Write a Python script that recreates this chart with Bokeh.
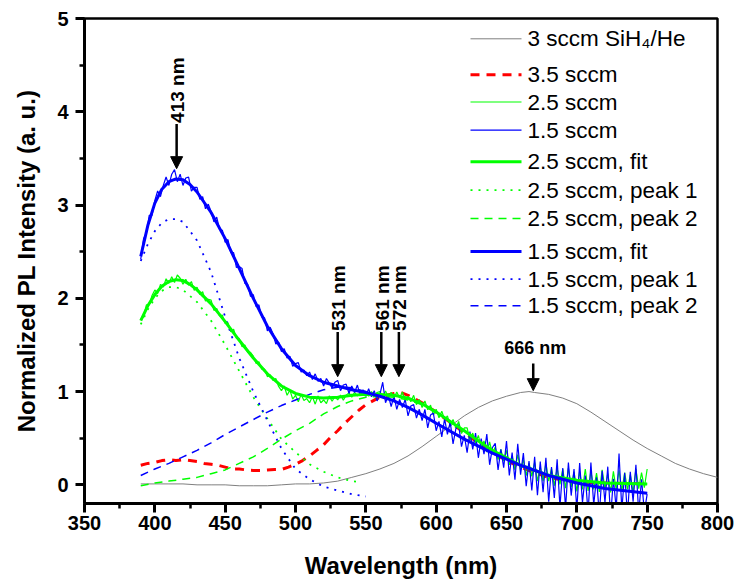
from bokeh.plotting import figure
from bokeh.models import Range1d, SingleIntervalTicker, Label, Arrow, NormalHead
from bokeh.embed import file_html
from bokeh.resources import INLINE

# ---------------- data ----------------
wl_raw = list(range(390, 751, 2))
blue_raw = [2.42, 2.64, 2.70, 2.89, 2.89, 3.05, 3.15, 3.09, 3.21, 3.30,
            3.21, 3.33, 3.38, 3.25, 3.33, 3.21, 3.29, 3.30, 3.15, 3.19,
            3.19, 3.06, 3.09, 2.96, 3.01, 2.93, 2.82, 2.87, 2.74, 2.73,
            2.60, 2.63, 2.49, 2.49, 2.33, 2.34, 2.32, 2.16, 2.15, 2.02,
            2.04, 1.91, 1.93, 1.80, 1.79, 1.65, 1.69, 1.62, 1.51, 1.53,
            1.43, 1.46, 1.36, 1.38, 1.27, 1.30, 1.31, 1.21, 1.23, 1.17,
            1.21, 1.13, 1.19, 1.11, 1.14, 1.06, 1.14, 1.09, 1.04, 1.10,
            1.12, 1.01, 1.07, 1.08, 0.98, 1.06, 0.99, 1.07, 0.96, 1.02,
            0.95, 1.03, 0.945, 1.01, 0.90, 0.97, 1.10, 0.88, 0.96, 0.84,
            0.95, 0.81, 0.915, 0.83, 0.915, 0.74, 0.845, 0.86, 0.715, 0.81,
            0.69, 0.81, 0.61, 0.75, 0.77, 0.58, 0.68, 0.515, 0.71, 0.54,
            0.675, 0.44, 0.60, 0.645, 0.41, 0.53, 0.345, 0.57, 0.38, 0.555,
            0.29, 0.495, 0.33, 0.545, 0.215, 0.40, 0.445, 0.16, 0.38, 0.185,
            0.47, 0.10, 0.345, 0.055, 0.44, 0.11, 0.34, -0.015, 0.255, -0.06,
            0.30, -0.11, 0.25, -0.08, 0.29, -0.18, 0.19, -0.14, 0.275, -0.235,
            0.18, -0.25, 0.24, -0.115, 0.17, -0.26, 0.235, -0.19, 0.10, -0.305,
            0.24, -0.215, 0.08, -0.325, 0.15, -0.19, 0.195, -0.35, 0.065, -0.26,
            0.335, -0.27, 0.13, -0.325, 0.14, -0.18, 0.215, -0.305, 0.06, -0.29,
            -0.10]
green_raw = [1.78, 1.80, 1.93, 1.93, 2.03, 2.09, 2.05, 2.15, 2.12, 2.21,
             2.16, 2.23, 2.17, 2.25, 2.215, 2.15, 2.205, 2.14, 2.18, 2.085,
             2.12, 2.04, 2.07, 1.97, 1.99, 1.98, 1.87, 1.89, 1.81, 1.82,
             1.73, 1.74, 1.64, 1.67, 1.57, 1.57, 1.48, 1.50, 1.42, 1.42,
             1.38, 1.30, 1.32, 1.24, 1.24, 1.16, 1.18, 1.12, 1.14, 1.055,
             1.01, 1.06, 0.96, 1.015, 0.92, 0.96, 0.89, 0.97, 0.905, 0.925,
             0.88, 0.947, 0.865, 0.952, 0.88, 0.91, 0.872, 0.954, 0.896, 0.948,
             0.91, 0.964, 0.908, 0.962, 0.986, 0.94, 0.992, 0.954, 0.986, 0.978,
             0.99, 0.95, 1.00, 0.96, 0.99, 1.00, 0.948, 1.006, 0.944, 0.992,
             0.93, 0.995, 0.93, 0.995, 0.90, 0.95, 0.89, 0.96, 0.86, 0.915,
             0.83, 0.90, 0.805, 0.855, 0.75, 0.81, 0.72, 0.79, 0.70, 0.74,
             0.63, 0.70, 0.61, 0.68, 0.55, 0.61, 0.61, 0.475, 0.555, 0.45,
             0.53, 0.40, 0.47, 0.35, 0.46, 0.33, 0.405, 0.27, 0.38, 0.255,
             0.37, 0.215, 0.31, 0.16, 0.325, 0.16, 0.27, 0.10, 0.235, 0.09,
             0.24, 0.04, 0.19, 0.04, 0.23, 0.04, 0.175, -0.01, 0.18, 0.005,
             0.17, -0.035, 0.18, -0.025, 0.14, -0.07, 0.145, -0.05, 0.17, -0.065,
             0.15, -0.05, 0.125, -0.075, 0.16, -0.04, 0.12, -0.08, 0.145, -0.055,
             0.155, -0.065, 0.13, -0.05, 0.11, -0.08, 0.17, -0.04, 0.13, -0.03,
             0.17]

wl_gray = [390, 400, 410, 420, 430, 440, 450, 460, 470, 480, 490, 500, 510, 520, 530,
           540, 550, 560, 570, 580, 590, 600, 610, 620, 630, 640, 650, 660, 666, 670,
           680, 690, 700, 710, 720, 730, 740, 750, 760, 770, 780, 790, 800]
gray = [0.01, 0.01, 0.01, 0.01, 0.00, 0.00, 0.00, -0.01, -0.01, -0.01, 0.00, 0.01, 0.01, 0.02, 0.04,
        0.08, 0.12, 0.17, 0.23, 0.31, 0.41, 0.52, 0.63, 0.74, 0.83, 0.90, 0.95, 0.99, 1.00, 0.99,
        0.97, 0.93, 0.87, 0.78, 0.68, 0.58, 0.48, 0.39, 0.31, 0.23, 0.17, 0.12, 0.08]

wl_red = [390, 395, 400, 405, 410, 415, 420, 425, 430, 435,
          440, 445, 450, 455, 460, 465, 470, 475, 480, 485,
          490, 495, 500, 505, 510, 515, 520, 525, 530, 535,
          540, 545, 550, 555, 560, 565, 570, 575, 580,
          590, 600, 610, 620, 630, 640, 650, 660, 670, 680, 690, 700,
          720, 750]
red = [0.21, 0.23, 0.24, 0.26, 0.27, 0.26, 0.27, 0.26, 0.25, 0.23,
       0.22, 0.21, 0.19, 0.17, 0.17, 0.16, 0.155, 0.155, 0.16, 0.165,
       0.165, 0.19, 0.22, 0.26, 0.31, 0.37, 0.43, 0.51, 0.58, 0.66,
       0.73, 0.80, 0.86, 0.90, 0.94, 0.96, 0.98, 0.99, 0.96,
       0.88, 0.78, 0.67, 0.56, 0.45, 0.35, 0.26, 0.19, 0.13, 0.08, 0.05, 0.03,
       0.02, 0.01]

wl_bfit = [390, 395, 400, 405, 410, 415, 420, 425, 430, 440, 450, 460, 470, 480, 490, 500,
           510, 520, 530, 540, 550, 560, 570, 580, 590, 600, 620, 640, 660, 680, 700, 720, 750]
blue_fit = [2.45, 2.78, 3.02, 3.17, 3.25, 3.28, 3.27, 3.22, 3.14, 2.92, 2.64, 2.32, 2.00, 1.70, 1.46, 1.28,
            1.17, 1.10, 1.06, 1.02, 0.99, 0.95, 0.90, 0.83, 0.75, 0.66, 0.49, 0.34, 0.21, 0.10, 0.02, -0.04, -0.09]

wl_gfit = [390, 395, 400, 405, 410, 415, 420, 425, 430, 440, 450, 460, 470, 480, 490, 500, 510, 520,
           530, 540, 550, 560, 570, 580, 590, 600, 610, 620, 630, 640, 660, 680, 700, 720, 750]
green_fit = [1.76, 1.92, 2.04, 2.13, 2.18, 2.20, 2.19, 2.15, 2.09, 1.94, 1.75, 1.55, 1.36, 1.19, 1.06, 0.98, 0.94, 0.93,
             0.94, 0.96, 0.97, 0.97, 0.96, 0.93, 0.87, 0.78, 0.68, 0.58, 0.47, 0.37, 0.21, 0.10, 0.05, 0.02, 0.01]

wl_gp1 = [390, 395, 400, 405, 410, 415, 420, 430, 440, 450, 460, 470, 480, 490, 500, 510, 520, 530, 540, 545]
green_peak1 = [1.72, 1.88, 2.00, 2.08, 2.12, 2.12, 2.09, 1.96, 1.76, 1.50, 1.22, 0.94, 0.71, 0.49, 0.35, 0.22, 0.14, 0.08, 0.04, 0.03]

wl_gp2 = [390, 400, 410, 420, 430, 440, 450, 460, 470, 480, 490, 500, 510, 520, 530, 540, 550, 561,
          570, 580, 590, 600, 620, 640, 660, 680, 700, 720, 750]
green_peak2 = [-0.01, 0.02, 0.04, 0.06, 0.08, 0.12, 0.16, 0.23, 0.30, 0.39, 0.49, 0.58, 0.66, 0.76, 0.84, 0.90, 0.94, 0.95,
               0.94, 0.91, 0.86, 0.78, 0.58, 0.37, 0.21, 0.10, 0.05, 0.02, 0.01]

wl_bp1 = [390, 395, 400, 405, 410, 415, 420, 430, 440, 450, 460, 470, 480, 490, 500, 510, 520, 530, 540, 550]
blue_peak1 = [2.40, 2.58, 2.72, 2.81, 2.85, 2.85, 2.82, 2.62, 2.28, 1.80, 1.36, 1.00, 0.69, 0.39, 0.17, 0.06, -0.02, -0.06, -0.10, -0.125]

wl_bp2 = [390, 400, 410, 420, 430, 440, 450, 460, 470, 480, 490, 500, 510, 520, 531, 540, 550, 560,
          570, 580, 600, 620, 640, 660, 680, 700, 720, 750]
blue_peak2 = [0.10, 0.17, 0.23, 0.30, 0.37, 0.45, 0.54, 0.62, 0.70, 0.78, 0.85, 0.91, 0.97, 1.02, 1.05, 1.04, 1.00, 0.95,
              0.90, 0.83, 0.66, 0.49, 0.34, 0.21, 0.10, 0.02, -0.04, -0.09]

peak_labels = ["413 nm", "531 nm", "561 nm", "572 nm"]
peak_x = [415.5, 530.0, 561.0, 573.5]
peak_tip_y = [3.39, 1.16, 1.16, 1.16]
peak_top_y = [3.87, 1.64, 1.64, 1.64]
gray_peak_label = "666 nm"
gray_peak_x = 669.0
gray_tip_y = 1.01
gray_top_y = 1.30

legend_labels = ["3 sccm SiH\u2084/He", "3.5 sccm", "2.5 sccm", "1.5 sccm", "2.5 sccm, fit",
                 "2.5 sccm, peak 1", "2.5 sccm, peak 2", "1.5 sccm, fit",
                 "1.5 sccm, peak 1", "1.5 sccm, peak 2"]

# ---------------- figure ----------------
X0, X1, Y0, Y1 = 350, 800, -0.2, 5
L, R, T, B = 84, 717, 18, 503

p = figure(width=735, height=585, x_range=Range1d(X0, X1), y_range=Range1d(Y0, Y1),
           output_backend="svg", toolbar_location=None,
           min_border_left=L, min_border_right=735 - R, min_border_top=T, min_border_bottom=585 - B)
p.xgrid.visible = False
p.ygrid.visible = False
p.outline_line_color = "black"
p.outline_line_width = 2.5
p.background_fill_color = "white"
p.border_fill_color = "white"

FONT = "Liberation Sans"
p.xaxis.ticker = SingleIntervalTicker(interval=50, num_minor_ticks=2)
p.yaxis.ticker = SingleIntervalTicker(interval=1, num_minor_ticks=2)
for ax in (p.xaxis, p.yaxis):
    ax.axis_line_width = 3
    ax.axis_line_color = "black"
    ax.major_tick_line_width = 3
    ax.minor_tick_line_width = 2.5
    ax.major_tick_out = 9
    ax.major_tick_in = 0
    ax.minor_tick_out = 5
    ax.minor_tick_in = 0
    ax.major_label_text_font = FONT
    ax.major_label_text_font_style = "bold"
    ax.major_label_text_font_size = "20px"
    ax.major_label_text_color = "black"
    ax.axis_label_text_font = FONT
    ax.axis_label_text_font_style = "bold"
    ax.axis_label_text_font_size = "24px"
    ax.axis_label_text_color = "black"
p.xaxis.axis_label = "Wavelength (nm)"
p.yaxis.axis_label = "Normalized PL Intensity (a. u.)"
p.xaxis.major_label_standoff = 3
p.yaxis.major_label_standoff = 7
p.xaxis.axis_label_standoff = 19
p.yaxis.axis_label_standoff = 14

BLUE, GREEN, RED, GRAY = "#0000ff", "#00ff00", "#ff0000", "#7f7f7f"

p.line(wl_gray, gray, line_color=GRAY, line_width=1)
p.line(wl_red, red, line_color=RED, line_width=3, line_dash="9 7")
p.line(wl_raw, green_raw, line_color=GREEN, line_width=1.2)
p.line(wl_raw, blue_raw, line_color=BLUE, line_width=1.2)
p.line(wl_gp1, green_peak1, line_color=GREEN, line_width=1.8, line_dash="2 6")
p.line(wl_gp2, green_peak2, line_color=GREEN, line_width=1.5, line_dash="8 6")
p.line(wl_bp1, blue_peak1, line_color=BLUE, line_width=1.8, line_dash="2 6")
p.line(wl_bp2, blue_peak2, line_color=BLUE, line_width=1.5, line_dash="8 6")
p.line(wl_gfit, green_fit, line_color=GREEN, line_width=3)
p.line(wl_bfit, blue_fit, line_color=BLUE, line_width=3)

# peak arrows
for lab, x, tip, top in zip(peak_labels, peak_x, peak_tip_y, peak_top_y):
    p.add_layout(Arrow(x_start=x, y_start=top, x_end=x, y_end=tip, line_width=2.5, line_color="black",
                       end=NormalHead(size=12, fill_color="black", line_color="black", line_width=1)))
    p.add_layout(Label(x=x, y=top, text=lab, angle=90, angle_units="deg", text_align="left",
                       text_baseline="middle", text_font=FONT, text_font_style="bold",
                       text_font_size="19px", text_color="black", x_offset=1, y_offset=1))
p.add_layout(Arrow(x_start=gray_peak_x, y_start=gray_top_y, x_end=gray_peak_x, y_end=gray_tip_y,
                   line_width=2.5, line_color="black",
                   end=NormalHead(size=12, fill_color="black", line_color="black", line_width=1)))
p.add_layout(Label(x=gray_peak_x, y=gray_top_y, text=gray_peak_label, text_align="center",
                   text_baseline="bottom", text_font=FONT, text_font_style="bold",
                   text_font_size="18px", text_color="black", x_offset=2, y_offset=6))

# manual legend (layout in pixels converted to data coordinates)
def px2x(px):
    return X0 + (px - L) / (R - L) * (X1 - X0)

def px2y(py):
    return Y0 + (B - py) / (B - T) * (Y1 - Y0)

rows_py = [38.3, 74.2, 101.5, 129.7, 161.3, 189.6, 217.9, 251.1, 278.7, 305.3]
styles = [
    dict(line_color=GRAY, line_width=1),
    dict(line_color=RED, line_width=3, line_dash="9 7"),
    dict(line_color=GREEN, line_width=1.2),
    dict(line_color=BLUE, line_width=1.2),
    dict(line_color=GREEN, line_width=3),
    dict(line_color=GREEN, line_width=1.8, line_dash="2 6"),
    dict(line_color=GREEN, line_width=1.5, line_dash="8 6"),
    dict(line_color=BLUE, line_width=3),
    dict(line_color=BLUE, line_width=1.8, line_dash="2 6"),
    dict(line_color=BLUE, line_width=1.5, line_dash="8 6"),
]
for py, lab, st in zip(rows_py, legend_labels, styles):
    yy = px2y(py)
    p.line([px2x(470), px2x(521)], [yy, yy], **st)
    p.add_layout(Label(x=px2x(527), y=yy, text=lab, text_align="left", text_baseline="middle",
                       text_font=FONT, text_font_size="22.5px", text_color="black"))

open("out.html", "w").write(file_html(p, INLINE))
